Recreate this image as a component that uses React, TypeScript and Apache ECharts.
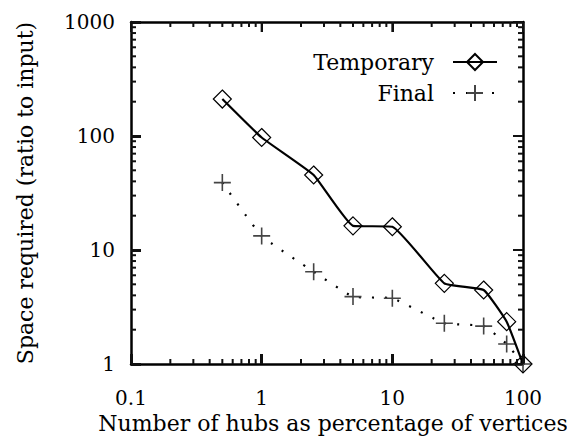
import React, { useEffect, useRef } from "react";
import * as echarts from "echarts";

const hubPercent = [0.5, 1, 2.5, 5, 10, 25, 50, 75, 100];
const temporarySpace = [211, 97, 45.5, 16.3, 16, 5.1, 4.46, 2.35, 1];
const finalSpace = [39, 13.3, 6.45, 3.9, 3.77, 2.28, 2.15, 1.5, 1];
const xTickLabels = [0.1, 1, 10, 100];
const yTickLabels = [1, 10, 100, 1000];
const minorMultipliers = [2, 3, 4, 5, 6, 7, 8, 9];
const seriesNames = ["Temporary", "Final"];

const FONT = "DejaVu Serif";
const TICK = "#111";

function minorValues(decades: number[]): number[] {
  const out: number[] = [];
  for (let i = 0; i < decades.length - 1; i++) {
    for (const m of minorMultipliers) out.push(Number((decades[i] * m).toPrecision(3)));
  }
  return out;
}

export default function App() {
  const ref = useRef<HTMLDivElement>(null);
  useEffect(() => {
    if (!ref.current) return;
    const chart = echarts.init(ref.current, null, { renderer: "svg" });
    const xMin = xTickLabels[0];
    const xMax = xTickLabels[xTickLabels.length - 1];
    const yMin = yTickLabels[0];
    const yMax = yTickLabels[yTickLabels.length - 1];
    const lxMin = Math.round(Math.log10(xMin));
    const lxMax = Math.round(Math.log10(xMax));
    const lyMin = Math.round(Math.log10(yMin));
    const lyMax = Math.round(Math.log10(yMax));
    const mkLine = () => ({ show: true, onZero: false, lineStyle: { color: "#000", width: 2.5 } });
    const mkTick = (w: number) => ({ show: true, inside: true, length: 10, lineStyle: { color: TICK, width: w } });
    const xMinor = minorValues(xTickLabels);
    const yMinor = minorValues(yTickLabels);
    const dataT = hubPercent.map((x, i) => [x, temporarySpace[i]]);
    const dataF = hubPercent.map((x, i) => [x, finalSpace[i]]);
    const plusPath = "path://M0,8L16,8M8,0L8,16";
    const fmt = (v: number) => String(v);

    const legendItem = (name: string, top: number) => ({
      data: [name],
      right: 69,
      top,
      align: "right",
      orient: "vertical",
      padding: 0,
      itemWidth: 44,
      itemHeight: 20,
      textStyle: { fontFamily: FONT, fontSize: 22, color: "#000", padding: [0, 14, 0, 0] },
    });

    chart.setOption({
      animation: false,
      backgroundColor: "#fff",
      textStyle: { fontFamily: FONT },
      grid: { left: 131, right: 44, top: 22, bottom: 73, containLabel: false, outerBoundsMode: "none" },
      legend: [legendItem(seriesNames[0], 51), legendItem(seriesNames[1], 82)],
      xAxis: [
        {
          type: "log",
          logBase: 10,
          min: xMin,
          max: xMax,
          position: "bottom",
          axisLine: mkLine(),
          axisTick: mkTick(3),
          splitLine: { show: false },
          axisLabel: { fontFamily: FONT, fontSize: 20, color: "#000", margin: 24, formatter: fmt },
          name: "Number of hubs as percentage of vertices",
          nameLocation: "middle",
          nameGap: 41,
          nameTextStyle: { fontFamily: FONT, fontSize: 22, color: "#000", padding: [0, 0, 0, 12] },
        },
        {
          type: "value",
          min: lxMin,
          max: lxMax,
          interval: 1,
          position: "top",
          axisLine: mkLine(),
          axisTick: mkTick(2),
          splitLine: { show: false },
          axisLabel: { show: false },
        },
      ],
      yAxis: [
        {
          type: "log",
          logBase: 10,
          min: yMin,
          max: yMax,
          position: "left",
          axisLine: mkLine(),
          axisTick: mkTick(3),
          splitLine: { show: false },
          axisLabel: { fontFamily: FONT, fontSize: 20, color: "#000", margin: 16, formatter: fmt },
          name: "Space required (ratio to input)",
          nameLocation: "middle",
          nameGap: 95,
          nameTextStyle: { fontFamily: FONT, fontSize: 22, color: "#000" },
        },
        {
          type: "value",
          min: lyMin,
          max: lyMax,
          interval: 1,
          position: "right",
          axisLine: mkLine(),
          axisTick: mkTick(2),
          splitLine: { show: false },
          axisLabel: { show: false },
        },
      ],
      series: [
        {
          name: seriesNames[1],
          type: "line",
          xAxisIndex: 0,
          yAxisIndex: 0,
          data: dataF,
          clip: false,
          smooth: 0.12,
          symbol: plusPath,
          symbolSize: 17,
          color: "#000",
          lineStyle: { color: "#000", width: 2.2, type: [2, 11] },
          itemStyle: { color: "#444", borderColor: "#444", borderWidth: 1.6 },
          z: 2,
        },
        {
          name: seriesNames[0],
          type: "line",
          xAxisIndex: 0,
          yAxisIndex: 0,
          data: dataT,
          clip: false,
          smooth: 0.12,
          symbol: "diamond",
          symbolSize: 18,
          color: "#000",
          lineStyle: { color: "#000", width: 2.2 },
          itemStyle: { color: "rgba(255,255,255,0)", borderColor: "#000", borderWidth: 1.2 },
          z: 3,
        },
      ],
    });

    try {
      const toPx = (x: number, y: number): number[] =>
        chart.convertToPixel({ xAxisIndex: 0, yAxisIndex: 0 }, [x, y]) as number[];
      const bl = toPx(xMin, yMin);
      const tr = toPx(xMax, yMax);
      const els: any[] = [];
      const addLine = (x1: number, y1: number, x2: number, y2: number) => {
        els.push({
          type: "line",
          silent: true,
          z: 50,
          shape: { x1, y1, x2, y2 },
          style: { stroke: TICK, lineWidth: 2 },
        });
      };
      const xTicks: [number, number][] = [
        ...xTickLabels.map((v) => [v, 10] as [number, number]),
        ...xMinor.map((v) => [v, 5] as [number, number]),
      ];
      const yTicks: [number, number][] = [
        ...yTickLabels.map((v) => [v, 10] as [number, number]),
        ...yMinor.map((v) => [v, 5] as [number, number]),
      ];
      for (const [v, len] of xTicks) {
        const px = toPx(v, yMin)[0];
        addLine(px, bl[1], px, bl[1] - len);
        addLine(px, tr[1], px, tr[1] + len);
      }
      for (const [v, len] of yTicks) {
        const py = toPx(xMin, v)[1];
        addLine(bl[0], py, bl[0] + len, py);
        addLine(tr[0], py, tr[0] - len, py);
      }
      chart.setOption({ graphic: { elements: els } });
    } catch (e) {
      // ignore
    }
    return () => chart.dispose();
  }, []);
  return (
    <div
      ref={ref}
      style={{ position: "fixed", left: 0, top: 0, width: 567, height: 437, background: "#fff" }}
    />
  );
}
